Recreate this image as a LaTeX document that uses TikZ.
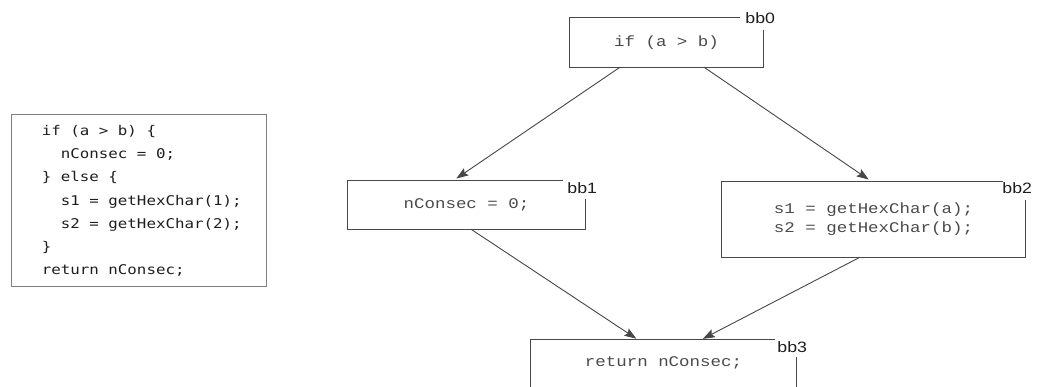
\documentclass[tikz,border=0pt]{standalone}
\usepackage{fontspec}
\setmainfont{Liberation Sans}
\newfontfamily\tagfont{Liberation Sans}[FakeStretch=1.18]
\newfontfamily\blockfont{Liberation Mono}[FakeStretch=1.18]
\newfontfamily\srcfont{DejaVu Sans Mono}[FakeStretch=1.18]
\usetikzlibrary{arrows.meta}
\definecolor{edgegray}{HTML}{474747}
\definecolor{framegray}{HTML}{808080}
\definecolor{textgray}{HTML}{4A4A4A}
\definecolor{inkgray}{HTML}{1E1E1E}
% every space in the listing is one character cell wide
\newcommand\fixedspaces{\spaceskip=9.52pt\relax\xspaceskip=9.52pt\relax}

\begin{document}
\begin{tikzpicture}[x=1pt,y=1pt,
  block/.style={inner sep=0pt, align=center, text=textgray,
    font=\blockfont\fontsize{14.8}{19.3}\selectfont},
  frame/.style={draw=edgegray, line width=1.1pt},
  tag/.style={inner sep=0pt, text=inkgray, font=\tagfont\fontsize{15}{15}\selectfont},
  flow/.style={draw=edgegray, line width=0.9pt,
    -{Stealth[length=12pt,width=8.5pt,inset=2pt]}},
  codebox/.style={draw=framegray, line width=0.8pt, inner sep=0pt,
    minimum width=255pt, minimum height=172pt},
  listing/.style={inner sep=0pt, align=left, text=inkgray,
    font=\srcfont\fontsize{13.4}{23.2}\selectfont}]

\useasboundingbox (0,0) rectangle (1037,-387);
\coordinate (bottom) at (0,-387);

% source listing
\node[codebox] (code) at (138.5,-200) {};
\node[listing, anchor=west] (src) at ([xshift=31pt,yshift=-1pt]code.west) {\fixedspaces
  if (a > b) \{\\
  \phantom{xx}nConsec = 0;\\
  \} else \{\\
  \phantom{xx}s1 = getHexChar(1);\\
  \phantom{xx}s2 = getHexChar(2);\\
  \}\\
  return nConsec;};

% basic blocks
\node[block, minimum width=193pt, minimum height=49pt] (b0) at (666.5,-42.5) {if (a > b)};
\node[block, minimum width=237pt, minimum height=48pt] (b1) at (466.5,-205) {nConsec = 0;};
\node[block, minimum width=303pt, minimum height=75pt] (b2) at (873.5,-219.5)
  {s1 = getHexChar(a);\\s2 = getHexChar(b);};
\node[block, minimum width=265pt, minimum height=46pt] (b3) at (663.5,-363) {return nConsec;};

% open-cornered frames
\draw[frame] ([xshift=-23pt]b0.north east) -- (b0.north west) -- (b0.south west)
  -- (b0.south east) -- ([yshift=-12pt]b0.north east);
\draw[frame] ([xshift=-22pt]b1.north east) -- (b1.north west) -- (b1.south west)
  -- (b1.south east) -- ([yshift=-18pt]b1.north east);
\draw[frame] ([xshift=-22pt]b2.north east) -- (b2.north west) -- (b2.south west)
  -- (b2.south east) -- ([yshift=-18pt]b2.north east);
\draw[frame] (b3.north west |- bottom) -- (b3.north west) -- ([xshift=-21pt]b3.north east);
\draw[frame] ([yshift=-17pt]b3.north east) -- (b3.north east |- bottom);

% block labels
\node[tag] (t0) at ([xshift=-3pt]b0.north east) {bb0};
\node[tag] (t1) at ([xshift=-3pt,yshift=-7pt]b1.north east) {bb1};
\node[tag] (t2) at ([xshift=-8pt,yshift=-6pt]b2.north east) {bb2};
\node[tag] (t3) at ([xshift=-4pt,yshift=-7pt]b3.north east) {bb3};

% control flow
\draw[flow, shorten >=4pt] ([xshift=-46.5pt]b0.south) -- ([xshift=-13.5pt]b1.north);
\draw[flow, shorten >=4pt] ([xshift=37.5pt]b0.south) -- ([xshift=-1.5pt]b2.north);
\draw[flow, shorten >=2pt] ([xshift=4.5pt]b1.south) -- ([xshift=-25.5pt]b3.north);
\draw[flow, shorten >=2pt] ([xshift=-13.5pt]b2.south) -- ([xshift=37.5pt]b3.north);
\end{tikzpicture}
\end{document}
